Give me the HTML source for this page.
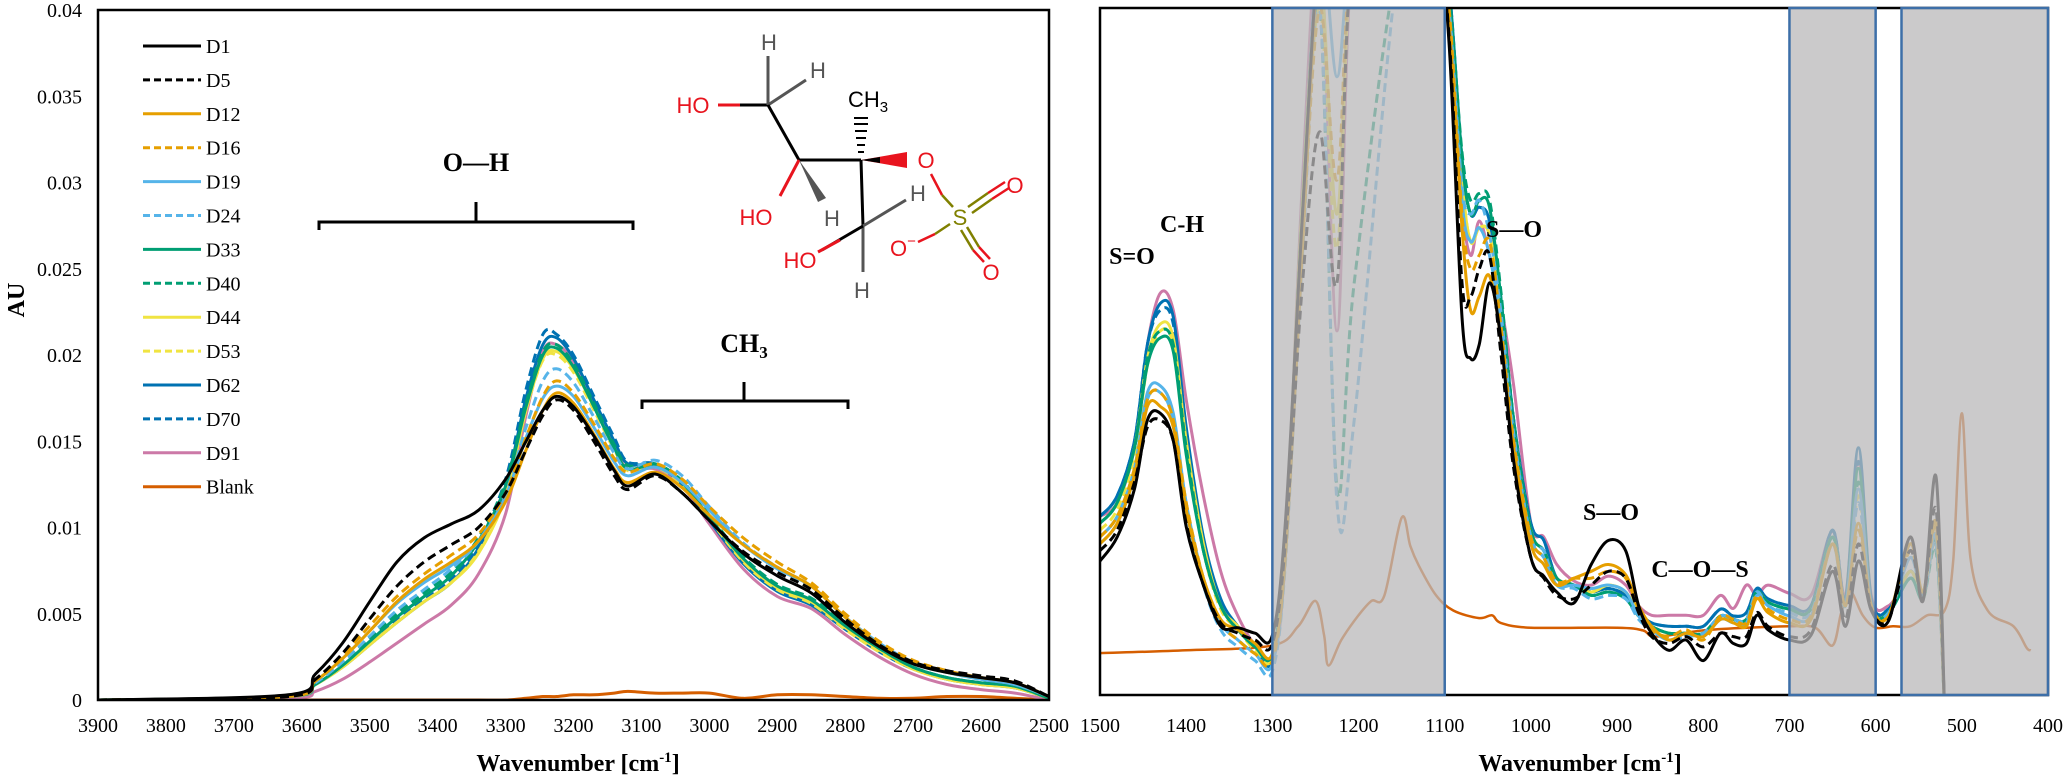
<!DOCTYPE html>
<html><head><meta charset="utf-8"><style>
html,body{margin:0;padding:0;background:#fff;}
svg{display:block;font-family:"Liberation Serif",serif;}
</style></head><body>
<svg id="chart" width="2067" height="778" viewBox="0 0 2067 778" xmlns="http://www.w3.org/2000/svg">
<defs>
<clipPath id="clipL"><rect x="98" y="10" width="951" height="690"/></clipPath>
<clipPath id="clipR"><rect x="1100" y="8" width="948" height="687"/></clipPath>
</defs>
<g id="left"></g>
<g id="right"></g>
<g id="mol" font-family="Liberation Sans, sans-serif" font-size="22">
  <line x1="718" y1="105" x2="768" y2="105" stroke="#e8141e" stroke-width="3"/>
  <line x1="740" y1="105" x2="768" y2="105" stroke="#000" stroke-width="3"/>
  <text x="693" y="113" fill="#e8141e" text-anchor="middle">HO</text>
  <line x1="768" y1="105" x2="768" y2="56" stroke="#555" stroke-width="3"/>
  <text x="769" y="50" fill="#555" text-anchor="middle">H</text>
  <line x1="768" y1="105" x2="806" y2="80" stroke="#555" stroke-width="3"/>
  <text x="818" y="78" fill="#555" text-anchor="middle">H</text>
  <line x1="768" y1="105" x2="799" y2="160" stroke="#000" stroke-width="3"/>
  <line x1="799" y1="160" x2="861" y2="160" stroke="#000" stroke-width="3"/>
  <line x1="799" y1="160" x2="780" y2="196" stroke="#e8141e" stroke-width="3"/>
  <text x="756" y="225" fill="#e8141e" text-anchor="middle">HO</text>
  <polygon points="799,160 818,202 826,198" fill="#555"/>
  <text x="832" y="226" fill="#555" text-anchor="middle">H</text>
  <g stroke="#000" stroke-width="2">
    <line x1="858" y1="152" x2="864" y2="152"/><line x1="857" y1="145" x2="865" y2="145"/>
    <line x1="856" y1="138" x2="866" y2="138"/><line x1="855" y1="131" x2="867" y2="131"/>
    <line x1="854" y1="124" x2="868" y2="124"/><line x1="854" y1="118" x2="868" y2="118"/>
  </g>
  <text x="868" y="107" fill="#000" text-anchor="middle">CH<tspan font-size="15" dy="5">3</tspan></text>
  <polygon points="861,160 907,152 907,168" fill="#e8141e"/>
  <polygon points="861,160 880,157 880,163" fill="#000"/>
  <text x="926" y="168" fill="#e8141e" text-anchor="middle">O</text>
  <line x1="861" y1="160" x2="863" y2="226" stroke="#000" stroke-width="3"/>
  <line x1="863" y1="226" x2="906" y2="200" stroke="#555" stroke-width="3"/>
  <text x="918" y="201" fill="#555" text-anchor="middle">H</text>
  <line x1="863" y1="226" x2="863" y2="272" stroke="#555" stroke-width="3"/>
  <text x="862" y="298" fill="#555" text-anchor="middle">H</text>
  <line x1="863" y1="226" x2="822" y2="250" stroke="#000" stroke-width="3"/>
  <line x1="840" y1="240" x2="818" y2="252" stroke="#e8141e" stroke-width="3"/>
  <text x="800" y="268" fill="#e8141e" text-anchor="middle">HO</text>
  <line x1="931" y1="174" x2="942" y2="195" stroke="#e8141e" stroke-width="2.5"/>
  <line x1="942" y1="195" x2="953" y2="207" stroke="#808000" stroke-width="2.5"/>
  <text x="960" y="225" fill="#808000" text-anchor="middle">S</text>
  <line x1="968" y1="207" x2="988" y2="193" stroke="#808000" stroke-width="2.5"/>
  <line x1="972" y1="213" x2="992" y2="199" stroke="#808000" stroke-width="2.5"/>
  <line x1="988" y1="193" x2="1005" y2="182" stroke="#e8141e" stroke-width="2.5"/>
  <line x1="992" y1="199" x2="1009" y2="188" stroke="#e8141e" stroke-width="2.5"/>
  <text x="1015" y="193" fill="#e8141e" text-anchor="middle">O</text>
  <line x1="961" y1="230" x2="973" y2="250" stroke="#808000" stroke-width="2.5"/>
  <line x1="967" y1="227" x2="979" y2="247" stroke="#808000" stroke-width="2.5"/>
  <line x1="973" y1="250" x2="984" y2="262" stroke="#e8141e" stroke-width="2.5"/>
  <line x1="979" y1="247" x2="990" y2="259" stroke="#e8141e" stroke-width="2.5"/>
  <text x="991" y="280" fill="#e8141e" text-anchor="middle">O</text>
  <line x1="950" y1="224" x2="935" y2="234" stroke="#808000" stroke-width="2.5"/>
  <line x1="935" y1="234" x2="918" y2="242" stroke="#e8141e" stroke-width="2.5"/>
  <text x="903" y="256" fill="#e8141e" text-anchor="middle">O<tspan font-size="15" dy="-10">−</tspan></text>
</g>
</svg>
<script>
// ---------- LEFT PANEL DATA ----------
const leftX = [3900,3620,3580,3540,3500,3460,3420,3380,3340,3300,3270,3245,3225,3200,3170,3140,3120,3080,3040,3000,2950,2900,2850,2800,2750,2700,2650,2600,2550,2500];
const leftD1  = [0,.0003,.0015,.0033,.0057,.0080,.0094,.0102,.0110,.0128,.0150,.0168,.0176,.0170,.0153,.0133,.0124,.0131,.0120,.0104,.0085,.0072,.0062,.0045,.0031,.0021,.0016,.0013,.0010,.0002];
const leftD5  = [0,.0002,.0012,.0027,.0047,.0066,.0080,.0090,.0100,.0120,.0145,.0165,.0174,.0168,.0150,.0130,.0122,.0130,.0120,.0104,.0086,.0074,.0064,.0047,.0032,.0022,.0017,.0014,.0011,.0002];
const leftD12 = [0,.0002,.0011,.0024,.0040,.0057,.0070,.0080,.0092,.0115,.0145,.0168,.0178,.0172,.0154,.0134,.0126,.0132,.0123,.0107,.0090,.0077,.0066,.0048,.0032,.0022,.0016,.0013,.0010,.0002];
const leftD16 = [0,.0002,.0012,.0026,.0043,.0060,.0073,.0084,.0096,.0120,.0152,.0176,.0185,.0178,.0160,.0140,.0132,.0137,.0128,.0112,.0094,.0080,.0068,.0050,.0034,.0023,.0017,.0013,.0010,.0002];
const leftD19 = [0,.0002,.0011,.0024,.0040,.0056,.0068,.0078,.0092,.0118,.0152,.0175,.0182,.0176,.0158,.0138,.0130,.0135,.0126,.0110,.0090,.0076,.0066,.0048,.0033,.0022,.0016,.0012,.0009,.0002];
const leftD24 = [0,.0002,.0010,.0022,.0037,.0052,.0064,.0076,.0092,.0120,.0158,.0185,.0192,.0184,.0164,.0143,.0134,.0139,.0130,.0112,.0091,.0077,.0066,.0048,.0033,.0022,.0016,.0012,.0009,.0002];
const leftD33 = [0,.0002,.0009,.0020,.0034,.0048,.0060,.0072,.0092,.0124,.0170,.0200,.0204,.0193,.0170,.0146,.0134,.0136,.0126,.0106,.0082,.0066,.0058,.0043,.0030,.0019,.0013,.0010,.0008,.0001];
const leftD40 = [0,.0002,.0010,.0021,.0036,.0050,.0062,.0074,.0094,.0126,.0172,.0202,.0206,.0195,.0172,.0148,.0136,.0137,.0127,.0107,.0083,.0067,.0059,.0044,.0030,.0019,.0013,.0010,.0008,.0001];
const leftD44 = [0,.0002,.0009,.0019,.0032,.0045,.0057,.0068,.0085,.0118,.0168,.0198,.0202,.0192,.0170,.0146,.0134,.0136,.0126,.0106,.0081,.0065,.0057,.0042,.0029,.0018,.0012,.0009,.0007,.0001];
const leftD53 = [0,.0002,.0009,.0019,.0032,.0045,.0057,.0068,.0086,.0119,.0168,.0197,.0200,.0190,.0168,.0145,.0133,.0135,.0125,.0105,.0080,.0064,.0056,.0041,.0028,.0018,.0012,.0009,.0007,.0001];
const leftD62 = [0,.0002,.0009,.0019,.0032,.0045,.0057,.0068,.0088,.0124,.0175,.0206,.0210,.0198,.0174,.0150,.0137,.0136,.0125,.0104,.0079,.0063,.0055,.0041,.0028,.0018,.0012,.0009,.0007,.0001];
const leftD70 = [0,.0002,.0009,.0020,.0033,.0046,.0058,.0070,.0091,.0128,.0180,.0212,.0212,.0200,.0176,.0152,.0138,.0137,.0126,.0105,.0080,.0064,.0056,.0042,.0029,.0019,.0013,.0010,.0008,.0001];
const leftD91 = [0,.0001,.0005,.0012,.0022,.0033,.0044,.0055,.0073,.0108,.0165,.0202,.0206,.0196,.0172,.0148,.0134,.0134,.0124,.0102,.0076,.0060,.0053,.0038,.0025,.0015,.0009,.0006,.0004,0];
const leftBlank = [0,0,0,0,0,0,0,0,0,0,.0001,.0002,.0002,.0003,.0003,.0004,.0005,.0004,.0004,.0004,.0001,.0003,.0003,.0002,.0001,.0001,.0002,.0002,.0001,0];
const leftYTicks = ["0","0.005","0.01","0.015","0.02","0.025","0.03","0.035","0.04"];
const leftXTicks = [3900,3800,3700,3600,3500,3400,3300,3200,3100,3000,2900,2800,2700,2600,2500];

// ---------- RIGHT PANEL DATA (relative absorbance, % of panel height) ----------
const rightX = [1500,1480,1460,1445,1430,1415,1400,1380,1360,1340,1320,1300,1285,1265,1245,1225,1205,1150,1110,1095,1080,1070,1060,1048,1035,1020,1000,985,970,950,930,910,890,875,860,840,820,800,780,765,750,738,725,700,675,650,635,620,605,585,560,545,530,520];
const rightD1  = [19.5,23,30,40,41,37,24.5,16,10,9.8,9,8.7,25,70,110,110,110,110,110,95,55,49,51,60,52,34,20,17.3,15,13.4,19,22.5,21,13,9,6.5,8,5,9,7.5,7.5,11.6,9.5,8,8.7,18,10,19.5,12.3,10.8,23,13.7,31.8,-2];
const rightD5  = [21,24,31,39,40,37,25,16,10.5,9,8,7.5,22,60,82,60,110,110,110,96,60,58,62,64,50,33,20,17,14.5,14,16,18,17,12,8.5,7.5,8.5,7,9,8.5,8.5,12,10,8.5,9.5,19,11,22,12.5,11,21,14,27,-2];
const rightD12 = [22,25,32,42,42,39,27,17,11,9.5,7.5,6,20,65,110,110,110,110,110,98,68,56,58,61,52,36,22,19,16,17,18,19,17.5,13,10,8,9,8.5,11,10.5,10,14,12,10.5,11,22,13,25,13,11.5,22,15,25,-2];
const rightD16 = [23,26,33,43,44,40,28,17,10.5,8,6,5,20,66,100,75,110,110,110,100,70,62,64,66,54,37,23,20,16.5,17,17,18,17,12.5,9.5,8.5,9.5,8,11.5,11,10.5,14.5,12.5,11,11.5,22,13,24,13,11.5,21,15,24,-2];
const rightD19 = [23,26,33,44,45,41,28,17,10.5,8,6,4.5,20,68,110,90,110,110,110,100,72,66,68,64,54,37,23,20,16,16,15.5,16,15,11.5,9.5,8,9,8.5,11,10.5,10.5,14.5,13,11.5,11.5,22,13,30,13,11.5,20,14.5,23,-2];
const rightD24 = [22,25,32,43,44,40,27,16,9.5,7,5,3.5,19,64,100,28,40,110,110,100,74,70,72,67,56,38,23,21,16,15.5,14,14.5,14,11,9.5,8,8.5,9,11.5,11,11,15,13,12,12,22,13,28,13,12,20,14.5,22,-2];
const rightD33 = [25,28,36,48,52,50,35,21,13,9.5,7,6,22,70,110,110,110,110,110,102,78,70,72,71,58,39,24,21,17,16,14.5,15,14,11.5,10,9,9,9,11.5,11,11,15,13.5,12.5,12.5,23,13,33,13,12,17,14,22,-2];
const rightD40 = [25,28,36,49,53,51,36,21,13,9.5,7,6,22,70,100,30,60,110,110,102,79,72,73,72,59,40,24,21,17,16,14.5,15,14,11.5,10,9,9,9,11.5,11,11,15,13.5,12.5,12.5,23,13,31,13,12,17,14,21,-2];
const rightD44 = [25,28,36,49,54,52,37,22,13,10,7,6,22,72,105,70,110,110,110,101,75,66,68,67,57,39,24,21,17,16,15,16,15,12,10,9,9,9,11.5,11,11,15,13.5,12.5,12.5,23,13,30,13,12,18,14,22,-2];
const rightD53 = [24,27,35,48,53,51,36,21,12.5,9.5,6.5,5.5,21,70,100,65,110,110,110,101,75,66,68,67,57,39,24,21,17,16,15,16,15,12,10,9,9,9,11.5,11,11,15,13.5,12.5,12.5,23,13,29,13,12,18,14,22,-2];
const rightD62 = [26,29,37,51,57,55,39,23,14,10,7,5.5,22,72,110,110,110,110,110,103,78,70,71,69,58,40,25,22.5,17,16,15,15.5,14.5,12,10.5,10,10,10,12.5,11.5,12,15.5,14,13,13,24,14,36,14,12.5,18,14.5,23,-2];
const rightD70 = [26,29,37,51,56,54,38,22.5,13.5,10,7,5,22,72,110,110,110,110,110,103,78,70,71,69,58,40,25,22.5,17,16,15,15.5,14.5,12,10.5,10,10,10,12.5,11.5,12,15.5,14,13,13,24,14,34,14,12.5,18,14.5,23,-2];
const rightD91 = [26,28,36,51,58.5,56,43,29,18,11.5,7.2,5,20,75,110,53,110,110,110,100,72,64,69,64,57,45,25,23,19,16.6,16,17.3,16,13,11.6,11.6,11.6,11.6,14.5,12.6,16,14.5,16,14.8,14.5,23.8,14.5,34,14.5,13,17,14.5,23,-2];
const rightBlankX = [1500,1400,1300,1270,1250,1240,1235,1220,1200,1185,1170,1150,1140,1130,1110,1090,1060,1045,1035,1000,900,870,855,800,750,700,670,650,640,630,615,600,580,560,540,520,510,500,490,470,440,425,420];
const rightBlank = [6.1,6.5,7.2,10,13.7,8.7,4.3,8,11.6,13.7,14.5,25.8,21.7,18.8,14.5,12.3,11.2,11.6,10.5,9.8,9.8,9.4,8.5,9.4,9.8,10,9.8,7.2,12,15.2,11.6,9.8,10,10,11.6,12.3,19.5,41,20,12.3,10,6.9,6.5];
const rightXTicks = [1500,1400,1300,1200,1100,1000,900,800,700,600,500,400];
const shadedRanges = [[1300,1100],[700,600],[570,400]];

const seriesNames = ["D1","D5","D12","D16","D19","D24","D33","D40","D44","D53","D62","D70","D91","Blank"];
const seriesColors = ["#000","#000","#e69f00","#e69f00","#56b4e9","#56b4e9","#009e73","#009e73","#f0e442","#f0e442","#0072b2","#0072b2","#cc79a7","#d55e00"];
const seriesDashed = [false,true,false,true,false,true,false,true,false,true,false,true,false,false];
const leftSeries = [leftD1,leftD5,leftD12,leftD16,leftD19,leftD24,leftD33,leftD40,leftD44,leftD53,leftD62,leftD70,leftD91,leftBlank];
const rightSeries = [rightD1,rightD5,rightD12,rightD16,rightD19,rightD24,rightD33,rightD40,rightD44,rightD53,rightD62,rightD70,rightD91];

const NS = "http://www.w3.org/2000/svg";
function mk(tag, attrs, parent) { const e = document.createElementNS(NS, tag); for (const k in attrs) e.setAttribute(k, attrs[k]); parent.appendChild(e); return e; }
function smooth(pts) {
  let d = "M" + pts[0][0].toFixed(1) + "," + pts[0][1].toFixed(1);
  for (let i = 0; i < pts.length - 1; i++) {
    const p0 = pts[Math.max(0, i - 1)], p1 = pts[i], p2 = pts[i + 1], p3 = pts[Math.min(pts.length - 1, i + 2)];
    const c1 = [p1[0] + (p2[0] - p0[0]) / 6, p1[1] + (p2[1] - p0[1]) / 6];
    const c2 = [p2[0] - (p3[0] - p1[0]) / 6, p2[1] - (p3[1] - p1[1]) / 6];
    d += "C" + c1[0].toFixed(1) + "," + c1[1].toFixed(1) + " " + c2[0].toFixed(1) + "," + c2[1].toFixed(1) + " " + p2[0].toFixed(1) + "," + p2[1].toFixed(1);
  }
  return d;
}

// ---------- LEFT PANEL ----------
const L = document.getElementById("left");
const lx = v => 98 + (3900 - v) / 1400 * 951;
const ly = v => 700 - v / 0.04 * 690;
const lcurves = mk("g", {"clip-path": "url(#clipL)"}, L);


for (let s = leftSeries.length - 1; s >= 0; s--) {
  const pts = leftX.map((x, i) => [lx(x), ly(leftSeries[s][i])]);
  const p = mk("path", {d: smooth(pts), fill: "none", stroke: seriesColors[s], "stroke-width": 3, "stroke-dasharray": seriesDashed[s] ? "9,5" : "none"}, lcurves);
  
  
}
const lframe = mk("rect", {x: 98, y: 10, width: 951, height: 690, fill: "none", stroke: "#000", "stroke-width": 2.5}, L);


leftYTicks.forEach((t, i) => {
  const tx = mk("text", {x: 82, y: ly(i * 0.005) + 7, "text-anchor": "end", "font-size": 20}, L);
  tx.textContent = t;
  
  
});
leftXTicks.forEach(t => {
  const tx = mk("text", {x: lx(t), y: 732, "text-anchor": "middle", "font-size": 20}, L);
  tx.textContent = t;
  
  
});
const lxt = mk("text", {x: 578, y: 771, "text-anchor": "middle", "font-size": 24, "font-weight": "bold"}, L);
lxt.innerHTML = 'Wavenumber [cm<tspan font-size="15" dy="-9">-1</tspan><tspan dy="9">]</tspan>';


const lyt = mk("text", {x: 0, y: 0, "text-anchor": "middle", "font-size": 24, "font-weight": "bold", transform: "translate(24,300) rotate(-90)"}, L);
lyt.textContent = "AU";


// legend
seriesNames.forEach((n, i) => {
  const y = 46 + i * 33.9;
  const g = mk("g", {}, L);
  
  
  mk("line", {x1: 143, y1: y, x2: 201, y2: y, stroke: seriesColors[i], "stroke-width": 3, "stroke-dasharray": seriesDashed[i] ? "7,4" : "none"}, g);
  const t = mk("text", {x: 206, y: y + 7, "font-size": 20}, g);
  t.textContent = n;
});
// brackets
function bracket(x1, x2, y, cx, ytop, label, ly2, name) {
  const g = mk("g", {}, L);
  
  
  mk("path", {d: `M${x1},${y + 8} L${x1},${y} L${x2},${y} L${x2},${y + 8} M${cx},${y} L${cx},${ytop}`, fill: "none", stroke: "#000", "stroke-width": 3}, g);
  const t = mk("text", {x: cx, y: ly2, "text-anchor": "middle", "font-size": 26, "font-weight": "bold"}, g);
  t.innerHTML = label;
}
bracket(319, 633, 222, 476, 202, "O—H", 171, "oh-band-annotation");
bracket(642, 848, 401, 744, 382, 'CH<tspan font-size="17" dy="6">3</tspan>', 352, "ch3-band-annotation");

// ---------- RIGHT PANEL ----------
const R = document.getElementById("right");
const rx = v => 1100 + (1500 - v) / 1100 * 948;
const ry = v => 695 - v / 100 * 687;
const rcurves = mk("g", {"clip-path": "url(#clipR)"}, R);


{
  const pts = rightBlankX.map((x, i) => [rx(x), ry(rightBlank[i])]);
  const p = mk("path", {d: smooth(pts), fill: "none", stroke: "#d55e00", "stroke-width": 2.5}, rcurves);
  
  
}
for (let s = rightSeries.length - 1; s >= 0; s--) {
  const pts = rightX.map((x, i) => [rx(x), ry(rightSeries[s][i])]);
  const p = mk("path", {d: smooth(pts), fill: "none", stroke: seriesColors[s], "stroke-width": 3, "stroke-dasharray": seriesDashed[s] ? "9,5" : "none"}, rcurves);
  
  
}
const rframe = mk("rect", {x: 1100, y: 8, width: 948, height: 687, fill: "none", stroke: "#000", "stroke-width": 2.5}, R);


shadedRanges.forEach(r => {
  const b = mk("rect", {x: rx(r[0]), y: 8, width: rx(r[1]) - rx(r[0]), height: 687, fill: "rgb(186,184,185)", "fill-opacity": 0.75, stroke: "#3d6fa8", "stroke-width": 2.5}, R);
  
  
});
rightXTicks.forEach(t => {
  const tx = mk("text", {x: rx(t), y: 732, "text-anchor": "middle", "font-size": 20}, R);
  tx.textContent = t;
  
  
});
const rxt = mk("text", {x: 1580, y: 771, "text-anchor": "middle", "font-size": 24, "font-weight": "bold"}, R);
rxt.innerHTML = 'Wavenumber [cm<tspan font-size="15" dy="-9">-1</tspan><tspan dy="9">]</tspan>';


[["S=O",1132,264],["C-H",1182,232],["S—O",1514,237],["S—O",1611,520],["C—O—S",1700,577]].forEach(a => {
  const t = mk("text", {x: a[1], y: a[2], "text-anchor": "middle", "font-size": 24, "font-weight": "bold"}, R);
  t.textContent = a[0];
  
  
});
</script>
</body></html>
